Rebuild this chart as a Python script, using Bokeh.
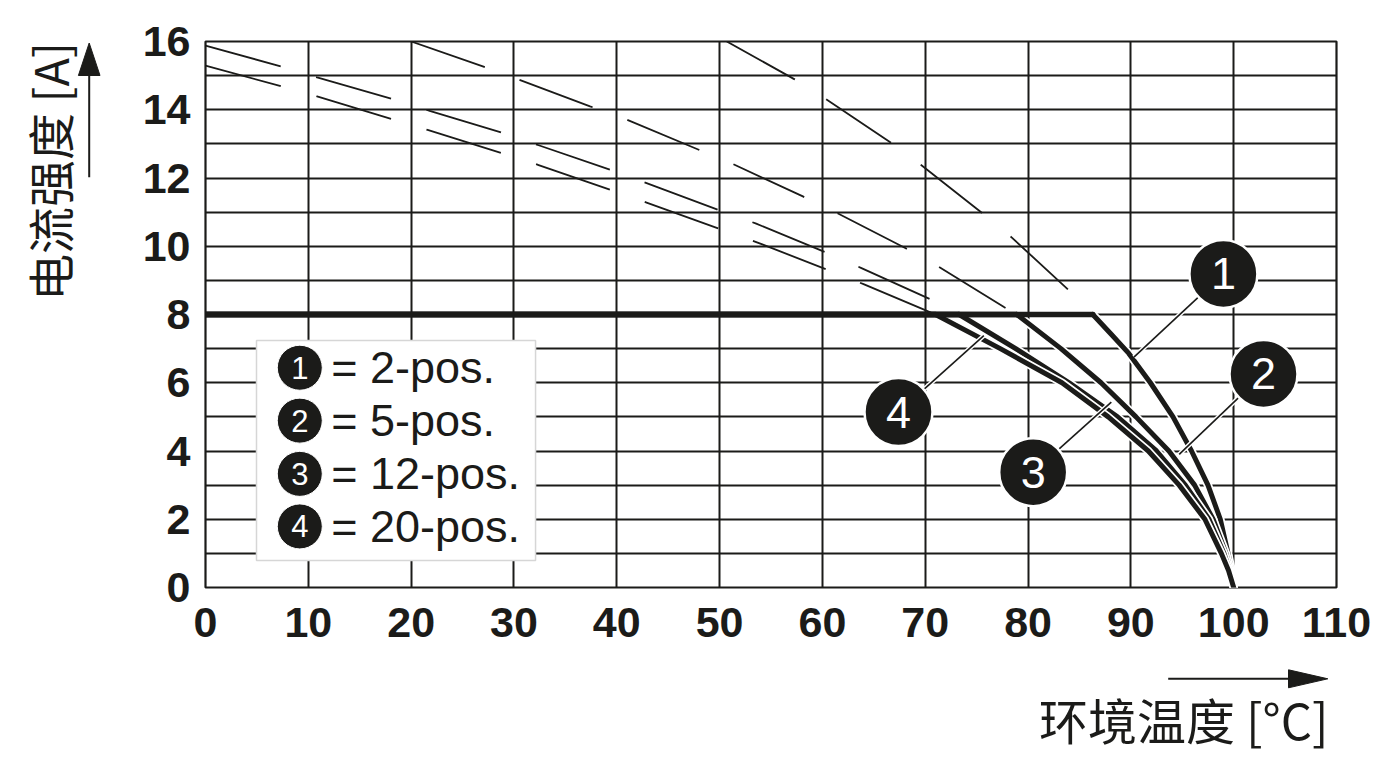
import math
from bokeh.plotting import figure
from bokeh.models import FixedTicker
from bokeh.layouts import column, row
from bokeh.core.properties import value
from bokeh.embed import file_html
from bokeh.resources import INLINE

# ---------------- data ----------------
rated_current = 8.0  # A, cap of every curve

# derating curves: ambient temperature [°C] vs current [A]
c1_temp = [50.7, 57.3, 60.4, 66.7, 69.6, 75.5, 78.4, 83.9, 86.3, 88.0, 89.8, 91.9, 94.1, 95.9, 97.5, 98.7, 99.45, 99.8, 100.0]
c1_amp = [16.0, 14.89, 14.3, 13.03, 12.38, 10.98, 10.26, 8.73, 8.0, 7.45, 6.86, 6.0, 5.0, 4.0, 3.0, 2.0, 1.0, 0.5, 0.0]

c2_temp = [20.0, 26.9, 30.3, 37.4, 40.8, 47.8, 51.3, 58.1, 61.4, 68.1, 71.3, 77.7, 78.9, 83.2, 87.1, 90.5, 93.7, 96.2, 98.0, 99.25, 99.7, 100.0]
c2_amp = [16.0, 15.28, 14.9, 14.1, 13.73, 12.85, 12.41, 11.46, 10.98, 9.94, 9.40, 8.21, 8.0, 7.0, 6.0, 5.0, 4.0, 3.0, 2.0, 1.0, 0.5, 0.0]

c3_temp = [0.0, 7.35, 10.85, 18.1, 21.8, 28.9, 32.4, 39.5, 42.9, 49.9, 53.5, 60.5, 63.8, 70.7, 73.3, 78.8, 84.0, 88.7, 92.5, 95.3, 97.6, 99.05, 99.6, 100.0]
c3_amp = [15.88, 15.27, 14.95, 14.32, 13.97, 13.32, 12.96, 12.23, 11.85, 11.06, 10.67, 9.80, 9.36, 8.42, 8.0, 7.0, 6.0, 5.0, 4.0, 3.0, 2.0, 1.0, 0.5, 0.0]

c4_temp = [0.0, 7.35, 10.85, 18.1, 21.6, 28.9, 32.4, 39.5, 42.9, 49.9, 53.5, 60.5, 64.0, 70.0, 71.0, 77.3, 83.3, 87.8, 91.7, 94.7, 97.2, 98.8, 99.5, 100.0]
c4_amp = [15.29, 14.69, 14.39, 13.73, 13.41, 12.72, 12.38, 11.64, 11.28, 10.52, 10.13, 9.31, 8.89, 8.13, 8.0, 7.0, 6.0, 5.0, 4.0, 3.0, 2.0, 1.0, 0.5, 0.0]

legend_numbers = ["1", "2", "3", "4"]
legend_labels = ["= 2-pos.", "= 5-pos.", "= 12-pos.", "= 20-pos."]

# callout bubbles (number, bubble centre, point on curve)
callout_numbers = ["1", "2", "3", "4"]
callout_x = [99.0, 102.9, 80.5, 67.4]
callout_y = [9.19, 6.26, 3.38, 5.14]
leader_x = [90.3, 94.7, 88.1, 75.7]
leader_y = [6.75, 3.90, 5.43, 7.38]

x_ticks = list(range(0, 111, 10))
y_ticks = list(range(0, 17, 2))
y_grid = list(range(0, 17, 1))

y_title = "电流强度 [A]"
x_title = "环境温度 [°C]"

# ---------------- layout / style ----------------
INK = "#1b1b19"
TICK_FONT = "Liberation Sans"
CJK_FONT = "Noto Sans CJK SC"

LEFT_W = 128          # side strip holding the y title
MAIN_W = 1264
MAIN_H = 655
BORDER_TOP = 41
BORDER_BOTTOM = 68
FRAME_BOTTOM_PAGE = MAIN_H - BORDER_BOTTOM   # 587
BOTTOM_H = 105        # strip holding the x title

# legend box and legend rows (data units)
legend_box = dict(left=4.96, right=32.1, bottom=0.79, top=7.24)
legend_marker_x = 9.17
legend_text_x = 12.23
legend_row_y = [6.44, 4.89, 3.33, 1.79]

p = figure(width=MAIN_W, height=MAIN_H, x_range=(0, 110), y_range=(0, 16),
           output_backend="svg", toolbar_location=None,
           min_border_left=77, min_border_right=56,
           min_border_top=BORDER_TOP, min_border_bottom=BORDER_BOTTOM)
p.background_fill_color = "white"
p.border_fill_color = "white"
p.outline_line_color = INK
p.outline_line_width = 2.2

p.xaxis.ticker = FixedTicker(ticks=x_ticks)
p.yaxis.ticker = FixedTicker(ticks=y_ticks)
p.xgrid.ticker = FixedTicker(ticks=x_ticks)
p.ygrid.ticker = FixedTicker(ticks=y_grid)
for g in (p.xgrid, p.ygrid):
    g.grid_line_color = INK
    g.grid_line_width = 2
    g.grid_line_alpha = 1.0

for ax in (p.xaxis, p.yaxis):
    ax.axis_line_color = None
    ax.major_tick_line_color = None
    ax.minor_tick_line_color = None
    ax.major_label_text_font = TICK_FONT
    ax.major_label_text_font_style = "bold"
    ax.major_label_text_font_size = "43px"
    ax.major_label_text_color = INK
p.xaxis.major_label_standoff = 14
p.yaxis.major_label_standoff = 9

curves = [(c1_temp, c1_amp), (c2_temp, c2_amp), (c3_temp, c3_amp), (c4_temp, c4_amp)]

# dashed part: above the rated current
for tx, ty in curves:
    dx = [x for x, y in zip(tx, ty) if y >= rated_current]
    dy = [y for y in ty if y >= rated_current]
    p.line(dx, dy, line_color=INK, line_width=1.8, line_dash="78 37")

# legend box
p.quad(left=[legend_box["left"]], right=[legend_box["right"]],
       bottom=[legend_box["bottom"]], top=[legend_box["top"]],
       fill_color="white", line_color="#d6d6d6", line_width=1.5)

# solid falling part, with a white casing
for tx, ty in curves:
    sx = [x for x, y in zip(tx, ty) if y <= rated_current]
    sy = [y for y in ty if y <= rated_current]
    p.line(sx, sy, line_color="white", line_width=8.5, line_cap="round", line_join="round")
    p.line(sx, sy, line_color=INK, line_width=5, line_cap="round", line_join="round")

# flat part at rated current
for tx, ty in curves:
    brk = [x for x, y in zip(tx, ty) if y == rated_current][0]
    p.line([0, brk], [rated_current, rated_current], line_color=INK, line_width=5.5,
           line_cap="round")

# callouts
p.segment(x0=callout_x, y0=callout_y, x1=leader_x, y1=leader_y,
          line_color="white", line_width=4.5)
p.segment(x0=callout_x, y0=callout_y, x1=leader_x, y1=leader_y,
          line_color=INK, line_width=1.6)
p.scatter(callout_x, callout_y, size=68, marker="circle",
          fill_color=INK, line_color="white", line_width=2.5)
p.text(callout_x, callout_y, text=callout_numbers, text_color="white",
       text_font=value(TICK_FONT), text_font_size="45px",
       text_align="center", text_baseline="middle")

# legend rows
lx = [legend_marker_x] * len(legend_row_y)
p.scatter(lx, legend_row_y, size=45, marker="circle", fill_color=INK,
          line_color="white", line_width=1)
p.text(lx, legend_row_y, text=legend_numbers, text_color="white",
       text_font=value(TICK_FONT), text_font_size="31px",
       text_align="center", text_baseline="middle")
p.text([legend_text_x] * len(legend_row_y), legend_row_y, text=legend_labels,
       text_color=INK, text_font=value(TICK_FONT), text_font_size="45px",
       text_align="left", text_baseline="middle")


def strip(width, height, top=0, bottom=0):
    f = figure(width=width, height=height, x_range=(0, width),
               y_range=(0, height - top - bottom),
               output_backend="svg", toolbar_location=None,
               x_axis_type=None, y_axis_type=None, min_border=0,
               min_border_top=top, min_border_bottom=bottom)
    f.outline_line_color = None
    f.grid.visible = False
    f.background_fill_color = "white"
    f.border_fill_color = "white"
    return f


# left strip: vertical title + upward arrow; its frame spans the same rows
# as the chart frame, local y = frame-bottom page row minus page row
left = strip(LEFT_W, MAIN_H, BORDER_TOP, BORDER_BOTTOM)
B0 = FRAME_BOTTOM_PAGE
left.text([47.5], [B0 - 171.0], text=[y_title], angle=math.pi / 2,
          text_align="center", text_baseline="middle", text_color=INK,
          text_font=value(CJK_FONT), text_font_size="47px")
ya_x, ya_y0, ya_tip, ya_base, ya_half = 88.7, B0 - 176.7, B0 - 42.5, B0 - 75.0, 10.8
left.segment(x0=[ya_x], y0=[ya_y0], x1=[ya_x], y1=[ya_base + 2], line_color=INK, line_width=2)
left.patch([ya_x - ya_half, ya_x, ya_x + ya_half], [ya_base, ya_tip, ya_base],
           fill_color=INK, line_color=INK, line_width=1)

# bottom strip: rightward arrow + horizontal title
total_w = LEFT_W + MAIN_W
bottom = strip(total_w, BOTTOM_H)
PAGE_BOTTOM = MAIN_H + BOTTOM_H
xa_y, xa_x0, xa_tip, xa_base, xa_half = PAGE_BOTTOM - 678.3, 1167.7, 1327.3, 1288.0, 9.0
bottom.segment(x0=[xa_x0], y0=[xa_y], x1=[xa_base + 2], y1=[xa_y], line_color=INK, line_width=2)
bottom.patch([xa_base, xa_tip, xa_base], [xa_y + xa_half, xa_y, xa_y - xa_half],
             fill_color=INK, line_color=INK, line_width=1)
bottom.text([1328.0], [PAGE_BOTTOM - 717.5], text=[x_title],
            text_align="right", text_baseline="middle", text_color=INK,
            text_font=value(CJK_FONT), text_font_size="49px")

layout = column(row(left, p, spacing=0), bottom, spacing=0)

open("out.html", "w").write(file_html(layout, INLINE))
